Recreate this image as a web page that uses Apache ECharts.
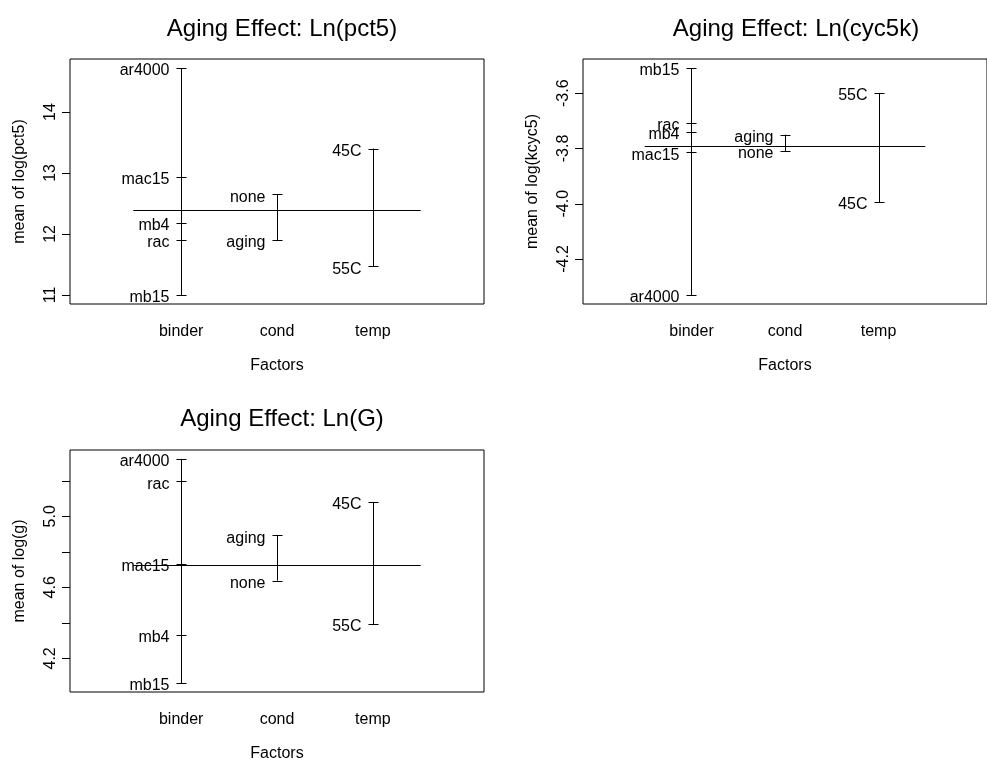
<!DOCTYPE html>
<html>
<head>
<meta charset="utf-8">
<title>Aging Effect</title>
<script src="https://cdn.jsdelivr.net/npm/echarts@6/dist/echarts.min.js"></script>
<style>
  html, body { margin: 0; padding: 0; background: #fff; }
  #chart { width: 987px; height: 763px; }
</style>
</head>
<body>
<div id="chart"></div>
<script>
// Factor names along the x axis of every panel
const factorNames = ['binder', 'cond', 'temp'];

// Level names of each factor
const binderLevels = ['ar4000', 'mac15', 'mb15', 'mb4', 'rac'];
const condLevels = ['aging', 'none'];
const tempLevels = ['45C', '55C'];

// Mean of log(pct5) per level, and the overall mean
const pct5Binder = [14.72, 12.94, 11.00, 12.18, 11.90];
const pct5Cond = [11.90, 12.65];
const pct5Temp = [13.40, 11.47];
const pct5Grand = 12.40;
const pct5Ticks = [11, 12, 13, 14];
const pct5TickLabels = ['11', '12', '13', '14'];

// Mean of log(kcyc5) per level, and the overall mean
const kcyc5Binder = [-4.330, -3.814, -3.509, -3.739, -3.708];
const kcyc5Cond = [-3.750, -3.809];
const kcyc5Temp = [-3.994, -3.599];
const kcyc5Grand = -3.790;
const kcyc5Ticks = [-4.2, -4.0, -3.8, -3.6];
const kcyc5TickLabels = ['-4.2', '-4.0', '-3.8', '-3.6'];

// Mean of log(g) per level, and the overall mean
const gBinder = [5.323, 4.733, 4.061, 4.334, 5.198];
const gCond = [4.894, 4.638];
const gTemp = [5.081, 4.393];
const gGrand = 4.725;
const gTicks = [4.2, 4.4, 4.6, 4.8, 5.0, 5.2];
const gLabelTicks = [4.2, 4.6, 5.0];
const gTickLabels = ['4.2', '4.6', '5.0'];

const FONT = '"Liberation Sans", Arial, Helvetica, sans-serif';
const X_MIN = -0.16, X_MAX = 4.16;

const panels = [
  { title: 'Aging Effect: Ln(pct5)', ylab: 'mean of log(pct5)',
    means: [pct5Binder, pct5Cond, pct5Temp], grand: pct5Grand,
    ticks: pct5Ticks, labelTicks: pct5Ticks, tickLabels: pct5TickLabels,
    grid: { left: 70, top: 59, width: 414, height: 245 }, titleX: 277, titleY: 12 },
  { title: 'Aging Effect: Ln(cyc5k)', ylab: 'mean of log(kcyc5)',
    means: [kcyc5Binder, kcyc5Cond, kcyc5Temp], grand: kcyc5Grand,
    ticks: kcyc5Ticks, labelTicks: kcyc5Ticks, tickLabels: kcyc5TickLabels,
    grid: { left: 583, top: 59, width: 416, height: 245 }, titleX: 791, titleY: 12 },
  { title: 'Aging Effect: Ln(G)', ylab: 'mean of log(g)',
    means: [gBinder, gCond, gTemp], grand: gGrand,
    ticks: gTicks, labelTicks: gLabelTicks, tickLabels: gTickLabels,
    grid: { left: 70, top: 450, width: 414, height: 246 }, titleX: 277, titleY: 402 }
];
const levelNames = [binderLevels, condLevels, tempLevels];

const grids = [], xAxes = [], yAxes = [], titles = [], series = [];
const px = v => Math.round(v) + 0.5;
const lineStyle = { stroke: '#000', lineWidth: 1 };

panels.forEach((p, k) => {
  // y range: data range widened by 4% on each side
  const all = [].concat(p.means[0], p.means[1], p.means[2]);
  const lo = Math.min.apply(null, all), hi = Math.max.apply(null, all);
  const pad = 0.04 * (hi - lo);

  grids.push(Object.assign({ show: true, borderColor: '#000', borderWidth: 1,
    backgroundColor: 'transparent', containLabel: false }, p.grid));

  titles.push({ text: p.title, left: p.titleX, top: p.titleY, textAlign: 'center',
    textStyle: { fontFamily: FONT, fontSize: 24, fontWeight: 'normal', color: '#000' } });

  xAxes.push({ type: 'value', gridIndex: k, min: X_MIN, max: X_MAX,
    axisLine: { show: false }, axisTick: { show: false }, splitLine: { show: false },
    axisLabel: { customValues: [1, 2, 3], formatter: v => factorNames[Math.round(v) - 1],
      margin: 20, fontFamily: FONT, fontSize: 16, color: '#000' },
    name: 'Factors', nameLocation: 'middle', nameGap: 54,
    nameTextStyle: { fontFamily: FONT, fontSize: 16, color: '#000' } });

  yAxes.push({ type: 'value', gridIndex: k, min: lo - pad, max: hi + pad,
    axisLine: { show: false }, splitLine: { show: false }, axisTick: { show: false },
    axisLabel: { customValues: p.labelTicks, rotate: 90, margin: 11,
      formatter: v => p.tickLabels[p.labelTicks.findIndex(t => Math.abs(t - v) < 1e-9)],
      fontFamily: FONT, fontSize: 16, color: '#000' },
    name: p.ylab, nameLocation: 'middle', nameGap: 42,
    nameTextStyle: { fontFamily: FONT, fontSize: 16, color: '#000' } });

  // outward tick marks on the left edge of the box
  series.push({ type: 'custom', xAxisIndex: k, yAxisIndex: k, silent: true, clip: false,
    data: p.ticks.map(t => [X_MIN, t]),
    renderItem: (params, api) => {
      const c = api.coord([api.value(0), api.value(1)]);
      const x = Math.round(c[0]), y = px(c[1]);
      return { type: 'line', shape: { x1: x - 8, y1: y, x2: x, y2: y }, style: lineStyle };
    } });

  // overall mean line across the three factors
  series.push({ type: 'custom', xAxisIndex: k, yAxisIndex: k, silent: true,
    data: [[0.5, 3.5, p.grand]],
    renderItem: (params, api) => {
      const a = api.coord([api.value(0), api.value(2)]);
      const b = api.coord([api.value(1), api.value(2)]);
      return { type: 'line', shape: { x1: a[0], y1: px(a[1]), x2: b[0], y2: px(b[1]) },
        style: lineStyle };
    } });

  // vertical span of level means for each factor
  series.push({ type: 'custom', xAxisIndex: k, yAxisIndex: k, silent: true,
    data: p.means.map((m, i) => [i + 1, Math.min.apply(null, m), Math.max.apply(null, m)]),
    renderItem: (params, api) => {
      const a = api.coord([api.value(0), api.value(1)]);
      const b = api.coord([api.value(0), api.value(2)]);
      return { type: 'line', shape: { x1: px(a[0]), y1: a[1], x2: px(b[0]), y2: b[1] },
        style: lineStyle };
    } });

  // one short tick and a name for every level mean
  const levelData = [], levelText = [];
  p.means.forEach((m, i) => m.forEach((v, j) => {
    levelData.push([i + 1, v]);
    levelText.push(levelNames[i][j]);
  }));
  series.push({ type: 'custom', xAxisIndex: k, yAxisIndex: k, silent: true,
    data: levelData,
    renderItem: (params, api) => {
      const c = api.coord([api.value(0), api.value(1)]);
      const x = px(c[0]), y = px(c[1]);
      return { type: 'group', children: [
        { type: 'line', shape: { x1: x - 5, y1: y, x2: x + 5, y2: y }, style: lineStyle },
        { type: 'text', x: x - 12, y: c[1] + 3,
          style: { text: levelText[params.dataIndex], align: 'right', verticalAlign: 'middle',
            font: '16px ' + FONT, fill: '#000' } }
      ] };
    } });
});

const chart = echarts.init(document.getElementById('chart'), null, { renderer: 'canvas' });
chart.setOption({
  animation: false,
  backgroundColor: '#fff',
  title: titles,
  grid: grids,
  xAxis: xAxes,
  yAxis: yAxes,
  series: series
});
</script>
</body>
</html>
